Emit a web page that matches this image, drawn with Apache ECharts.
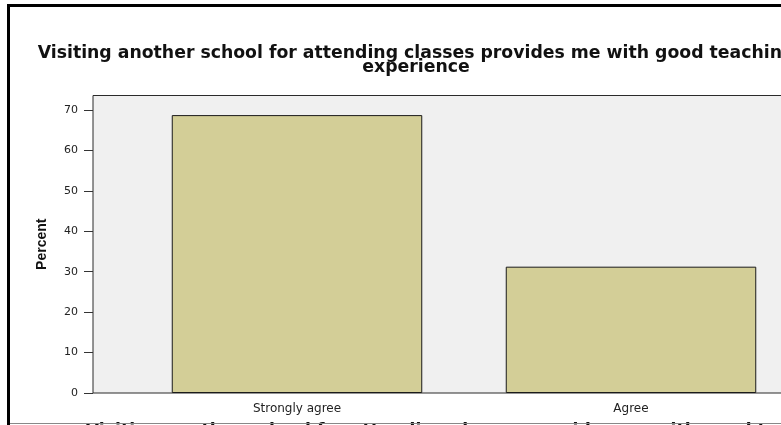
<!DOCTYPE html>
<html>
<head>
<meta charset="utf-8">
<title>Visiting another school - Percent</title>
<script src="https://cdn.jsdelivr.net/npm/echarts@6/dist/echarts.min.js"></script>
<style>
html, body { margin: 0; padding: 0; background: #fff; overflow: hidden; }
/* the original output is wider than the window and gets cut on the right */
#main { width: 832px; height: 425px; }
</style>
</head>
<body>
<div id="main"></div>
<script>
// values
var categories = ['Strongly agree', 'Agree'];
var percentValues = [68.75, 31.25];
var yTickValues = [0, 10, 20, 30, 40, 50, 60, 70];
var questionText = 'Visiting another school for attending classes provides me with good teaching\nexperience';

var chart = echarts.init(document.getElementById('main'));

chart.setOption({
    animation: false,
    title: {
        text: questionText,
        left: 'center',
        top: 41,
        textStyle: {
            fontFamily: 'DejaVu Sans',
            fontWeight: 'bold',
            fontSize: 17.3,
            lineHeight: 14.5,
            color: '#111'
        }
    },
    grid: [
        // grid 0 holds the bars, grid 1 is only the grey plot frame
        { left: 130, width: 668, top: 95.5, bottom: 32, show: false, outerBoundsMode: 'none' },
        { left: 93, right: -3, top: 95.5, bottom: 32, show: true, outerBoundsMode: 'none',
          backgroundColor: '#f0f0f0', borderColor: '#2a2a2a', borderWidth: 1 }
    ],
    xAxis: {
        type: 'category',
        gridIndex: 0,
        data: categories,
        axisLine: { show: false },
        axisTick: { alignWithLabel: true, length: 6, lineStyle: { color: '#333' } },
        axisLabel: { margin: 10, fontFamily: 'DejaVu Sans', fontSize: 12, color: '#222' },
        name: questionText,
        nameLocation: 'middle',
        nameGap: 31,
        nameTextStyle: {
            fontFamily: 'DejaVu Sans',
            fontWeight: 'bold',
            fontSize: 17.3,
            lineHeight: 14.5,
            color: '#111'
        }
    },
    yAxis: {
        type: 'value',
        gridIndex: 0,
        min: 0,
        max: 73.6,
        interval: 10,
        offset: 37,
        axisLine: { show: false },
        splitLine: { show: false },
        axisTick: { show: true, length: 9, customValues: yTickValues, lineStyle: { color: '#333' } },
        axisLabel: { margin: 15, customValues: yTickValues, fontFamily: 'DejaVu Sans', fontSize: 11, color: '#222' },
        name: 'Percent',
        nameLocation: 'middle',
        nameGap: 44,
        nameTextStyle: {
            fontFamily: 'Liberation Sans',
            fontWeight: 'bold',
            fontSize: 14,
            color: '#111'
        }
    },
    series: [{
        type: 'bar',
        data: percentValues,
        barWidth: '75%',
        itemStyle: { color: '#d3ce97', borderColor: '#1a1a1a', borderWidth: 1 }
    }],
    graphic: [
        // window frame around the SPSS output
        { type: 'rect', z: 100, shape: { x: 7, y: 4, width: 3, height: 421 }, style: { fill: '#000' } },
        { type: 'rect', z: 100, shape: { x: 7, y: 4, width: 825, height: 3 }, style: { fill: '#000' } },
        { type: 'rect', z: 100, shape: { x: 10, y: 423, width: 822, height: 1 }, style: { fill: '#888' } }
    ]
});
</script>
</body>
</html>
